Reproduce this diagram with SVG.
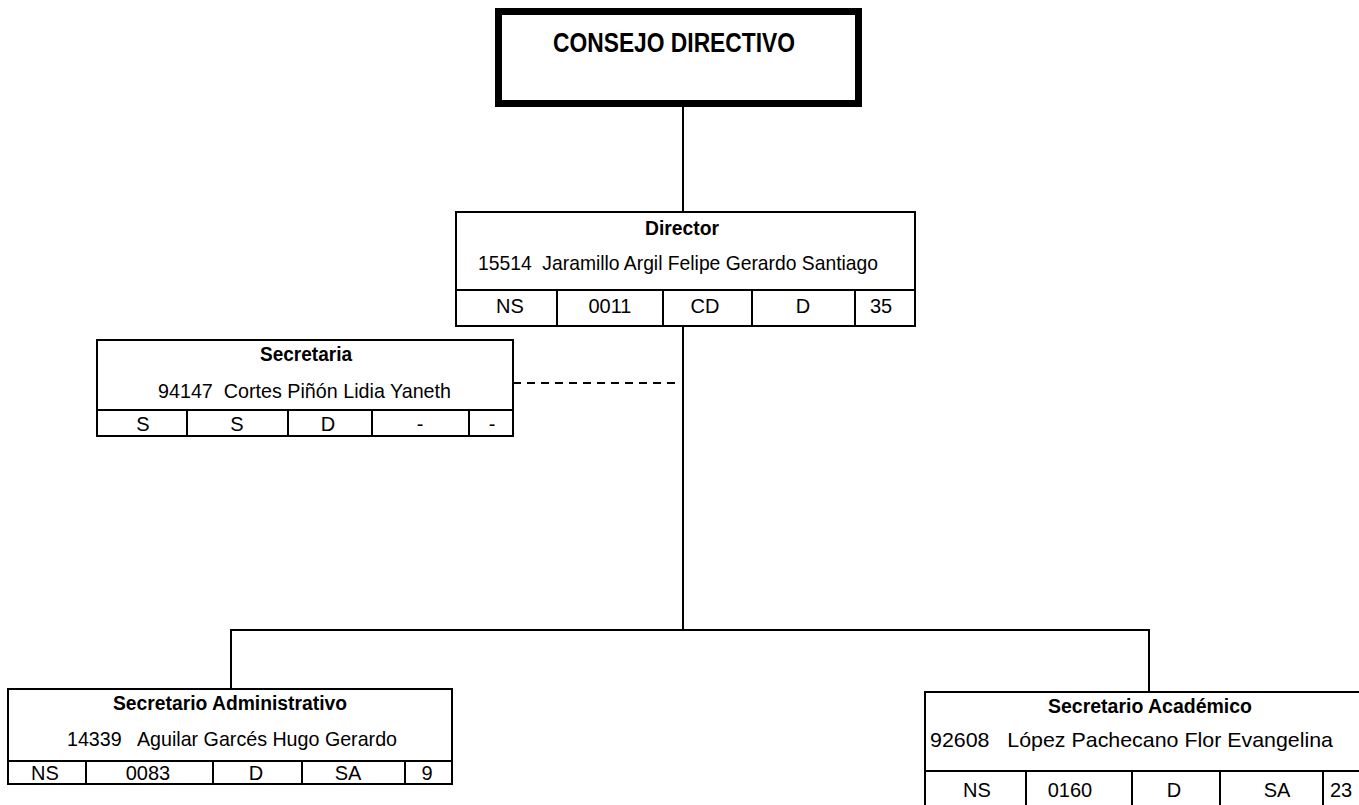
<svg xmlns="http://www.w3.org/2000/svg" width="1359" height="805" viewBox="0 0 1359 805">
<style>
text{font-family:"Liberation Sans",Arial,sans-serif;fill:#000}
.t{font-size:20px;font-weight:bold}
.n{font-size:21px}
.c{font-size:20px;text-anchor:middle}
.box{fill:#fff;stroke:#000;stroke-width:2}
.ln{stroke:#000;stroke-width:2;fill:none}
.conn{stroke:#000;stroke-width:2;fill:none}
</style>
<rect width="1359" height="805" fill="#fff"/>
<g id="connectors">
<line class="conn" x1="683" y1="107" x2="683" y2="212"/>
<line class="conn" x1="683" y1="326" x2="683" y2="631"/>
<line class="conn" x1="231" y1="630" x2="1150" y2="630"/>
<line class="conn" x1="231" y1="629" x2="231" y2="689"/>
<line class="conn" x1="1149" y1="629" x2="1149" y2="692"/>
<line class="conn" x1="513" y1="383" x2="677" y2="383" stroke-dasharray="8,6"/>
</g>
<g id="consejo">
<rect x="498.5" y="11.5" width="360" height="92" fill="#fff" stroke="#000" stroke-width="7"/>
<text x="553" y="52" font-size="27" font-weight="bold" textLength="242" lengthAdjust="spacingAndGlyphs">CONSEJO DIRECTIVO</text>
</g>
<g id="director">
<rect class="box" x="456" y="212" width="459" height="114"/>
<line class="ln" x1="456" y1="290" x2="915" y2="290"/>
<line class="ln" x1="557" y1="290" x2="557" y2="326"/>
<line class="ln" x1="663" y1="290" x2="663" y2="326"/>
<line class="ln" x1="752" y1="290" x2="752" y2="326"/>
<line class="ln" x1="855" y1="290" x2="855" y2="326"/>
<text class="t" x="645" y="235" textLength="74" lengthAdjust="spacingAndGlyphs">Director</text>
<text class="n" x="478" y="270" textLength="400" lengthAdjust="spacingAndGlyphs" xml:space="preserve">15514  Jaramillo Argil Felipe Gerardo Santiago</text>
<text class="c" x="510" y="313">NS</text>
<text class="c" x="610" y="313">0011</text>
<text class="c" x="705" y="313">CD</text>
<text class="c" x="803" y="313">D</text>
<text class="c" x="881" y="313">35</text>
</g>
<g id="secretaria">
<rect class="box" x="97" y="340" width="416" height="96"/>
<line class="ln" x1="97" y1="410" x2="513" y2="410"/>
<line class="ln" x1="187" y1="410" x2="187" y2="436"/>
<line class="ln" x1="288" y1="410" x2="288" y2="436"/>
<line class="ln" x1="372" y1="410" x2="372" y2="436"/>
<line class="ln" x1="469" y1="410" x2="469" y2="436"/>
<text class="t" x="260" y="361" textLength="92" lengthAdjust="spacingAndGlyphs">Secretaria</text>
<text class="n" x="158" y="398" textLength="293" lengthAdjust="spacingAndGlyphs" xml:space="preserve">94147  Cortes Piñón Lidia Yaneth</text>
<text class="c" x="143" y="431">S</text>
<text class="c" x="237" y="431">S</text>
<text class="c" x="328" y="431">D</text>
<text class="c" x="420" y="431">-</text>
<text class="c" x="492" y="431">-</text>
</g>
<g id="sec-administrativo">
<rect class="box" x="8" y="689" width="444" height="95"/>
<line class="ln" x1="8" y1="761" x2="452" y2="761"/>
<line class="ln" x1="86" y1="761" x2="86" y2="784"/>
<line class="ln" x1="213" y1="761" x2="213" y2="784"/>
<line class="ln" x1="302" y1="761" x2="302" y2="784"/>
<line class="ln" x1="405" y1="761" x2="405" y2="784"/>
<text class="t" x="113" y="710" textLength="234" lengthAdjust="spacingAndGlyphs">Secretario Administrativo</text>
<text class="n" x="67" y="746" textLength="330" lengthAdjust="spacingAndGlyphs" xml:space="preserve">14339   Aguilar Garcés Hugo Gerardo</text>
<text class="c" x="45" y="780">NS</text>
<text class="c" x="148" y="780">0083</text>
<text class="c" x="256" y="780">D</text>
<text class="c" x="348" y="780">SA</text>
<text class="c" x="427" y="780">9</text>
</g>
<g id="sec-academico">
<rect class="box" x="925" y="692" width="445" height="130"/>
<line class="ln" x1="925" y1="771" x2="1370" y2="771"/>
<line class="ln" x1="1026" y1="771" x2="1026" y2="822"/>
<line class="ln" x1="1132" y1="771" x2="1132" y2="822"/>
<line class="ln" x1="1220" y1="771" x2="1220" y2="822"/>
<line class="ln" x1="1323" y1="771" x2="1323" y2="822"/>
<text class="t" x="1048" y="713" textLength="204" lengthAdjust="spacingAndGlyphs">Secretario Académico</text>
<text class="n" x="930" y="747" textLength="403" lengthAdjust="spacingAndGlyphs" xml:space="preserve">92608   López Pachecano Flor Evangelina</text>
<text class="c" x="977" y="797">NS</text>
<text class="c" x="1070" y="797">0160</text>
<text class="c" x="1174" y="797">D</text>
<text class="c" x="1277" y="797">SA</text>
<text class="c" x="1341" y="797">23</text>
</g>
</svg>
